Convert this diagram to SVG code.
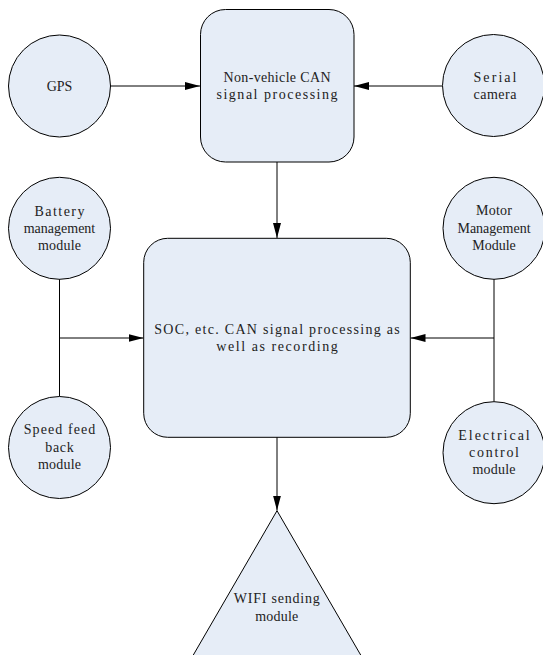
<svg xmlns="http://www.w3.org/2000/svg" width="543" height="655" viewBox="0 0 543 655">
<style>
.node{fill:#E6EDF7;stroke:#000;stroke-width:1}
.t{font-family:"Liberation Serif","DejaVu Serif",serif;font-size:14px;fill:#222;text-anchor:middle}
.c{stroke:#000;stroke-width:1;fill:none}
</style>
<defs>
<marker id="ah" markerUnits="userSpaceOnUse" markerWidth="16" markerHeight="10" refX="15" refY="4" orient="auto">
<path d="M0,0 L15,4 L0,8 z" fill="#000"/>
</marker>
</defs>
<rect width="543" height="655" fill="#fff"/>
<g id="connectors">
<path class="c" d="M110.5 86 H200" marker-end="url(#ah)"/>
<path class="c" d="M442.5 86 H354" marker-end="url(#ah)"/>
<path class="c" d="M277 162 V238" marker-end="url(#ah)"/>
<path class="c" d="M59.5 279 V396.5"/>
<path class="c" d="M59.5 338 H143.5" marker-end="url(#ah)"/>
<path class="c" d="M494 279 V401.5"/>
<path class="c" d="M494 338 H410.5" marker-end="url(#ah)"/>
<path class="c" d="M277 437 V510.5" marker-end="url(#ah)"/>
</g>
<g id="gps">
<circle class="node" cx="59.5" cy="86" r="51"/>
<text class="t" x="59.5" y="91">GPS</text>
</g>
<g id="serial-camera">
<circle class="node" cx="493.5" cy="85.5" r="51"/>
<text class="t" x="495" y="81.5" textLength="43" lengthAdjust="spacing">Serial</text>
<text class="t" x="495" y="98.5" textLength="43" lengthAdjust="spacing">camera</text>
</g>
<g id="non-vehicle">
<rect class="node" x="200.5" y="9.5" width="153.5" height="152.5" rx="25" ry="25"/>
<text class="t" x="277" y="82" textLength="107" lengthAdjust="spacing">Non-vehicle CAN</text>
<text class="t" x="277" y="99" textLength="121" lengthAdjust="spacing">signal processing</text>
</g>
<g id="battery">
<circle class="node" cx="59.5" cy="228.3" r="51"/>
<text class="t" x="59.5" y="215.5" textLength="50" lengthAdjust="spacing">Battery</text>
<text class="t" x="59.5" y="233">management</text>
<text class="t" x="59.5" y="250" textLength="43" lengthAdjust="spacing">module</text>
</g>
<g id="speed">
<circle class="node" cx="59.5" cy="447.5" r="51"/>
<text class="t" x="59.5" y="434" textLength="71.5" lengthAdjust="spacing">Speed feed</text>
<text class="t" x="59.5" y="451.5" textLength="28.6" lengthAdjust="spacing">back</text>
<text class="t" x="59.5" y="469" textLength="43" lengthAdjust="spacing">module</text>
</g>
<g id="motor">
<circle class="node" cx="494" cy="228.3" r="51"/>
<text class="t" x="494" y="215" textLength="36" lengthAdjust="spacing">Motor</text>
<text class="t" x="494" y="233">Management</text>
<text class="t" x="494" y="250">Module</text>
</g>
<g id="electrical">
<circle class="node" cx="494" cy="452.7" r="51"/>
<text class="t" x="494" y="440" textLength="71.5" lengthAdjust="spacing">Electrical</text>
<text class="t" x="494" y="457.3" textLength="50" lengthAdjust="spacing">control</text>
<text class="t" x="494" y="474" textLength="43" lengthAdjust="spacing">module</text>
</g>
<g id="soc">
<rect class="node" x="143.7" y="238.3" width="266.6" height="199" rx="24" ry="24"/>
<text class="t" x="277" y="334.3" textLength="245.5" lengthAdjust="spacing">SOC, etc. CAN signal processing as</text>
<text class="t" x="277" y="351" textLength="121.5" lengthAdjust="spacing">well as recording</text>
</g>
<g id="wifi">
<path class="node" d="M277 510.7 L178.8 680 L375.2 680 Z"/>
<text class="t" x="276.7" y="603.3" textLength="86" lengthAdjust="spacing">WIFI sending</text>
<text class="t" x="276.7" y="620.7" textLength="43" lengthAdjust="spacing">module</text>
</g>
</svg>
